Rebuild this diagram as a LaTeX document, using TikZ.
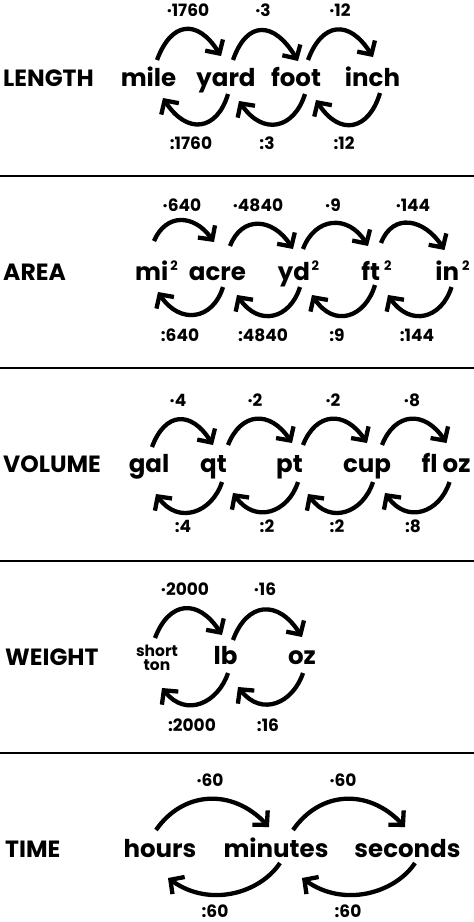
\documentclass[tikz,border=0pt]{standalone}
\usepackage{fontspec}
\setmainfont{Poppins}
\usetikzlibrary{arrows.meta,calc}
\newcommand\supsq[1]{\kern#1pt\raisebox{9.5pt}{\fontsize{13}{13}\selectfont 2}}
\begin{document}
\begin{tikzpicture}[x=1pt,y=-1pt,
  unit/.style={font=\fontsize{24.5}{24.5}\selectfont\bfseries, inner sep=0pt, anchor=base},
  title/.style={font=\fontsize{23.5}{23.5}\selectfont\bfseries, inner sep=0pt, anchor=base west},
  lab/.style={font=\fontsize{17}{17}\selectfont\bfseries, inner sep=0pt},
  arc/.style={line width=4.3pt, -{Straight Barb[length=10pt,width=21pt]}},
  sep/.style={line width=2.5pt}]
\useasboundingbox (0,0) rectangle (474,922);
\fill[white] (0,0) rectangle (474,922);
% separators
\draw[sep] (0,176) -- (474,176);
\draw[sep] (0,368) -- (474,368);
\draw[sep] (0,561) -- (474,561);
\draw[sep] (0,753) -- (474,753);

% ---------------- LENGTH
\node[title] (tlen) at (3,86) {LENGTH};
\node[unit] (mile) at (148.5,86) {mile};
\node[unit] (yard) at (226,86) {yard};
\node[unit] (foot) at (296,86) {foot};
\node[unit] (inch) at (372.5,86) {inch};
\node[lab] (lt1) at (188,10) {·1760};
\node[lab] (lt2) at (263,10) {·3};
\node[lab] (lt3) at (340,10) {·12};
\node[lab] (lb1) at (191,143) {:1760};
\node[lab] (lb2) at (267,143) {:3};
\node[lab] (lb3) at (344,143) {:12};
\draw[arc] ($(mile.base)+(8.5,-26)$) .. controls +(14,-38) and +(-24,-38) .. ($(yard.base)+(-5,-30)$);
\draw[arc] ($(yard.base)+(7,-26)$) .. controls +(14,-40) and +(-24,-40) .. ($(foot.base)+(2,-25)$);
\draw[arc] ($(foot.base)+(12,-26)$) .. controls +(14,-38) and +(-24,-38) .. ($(inch.base)+(0.5,-29)$);
\draw[arc] ($(yard.base)+(2,8)$) .. controls +(-11,37) and +(24,37) .. ($(mile.base)+(14.5,12)$);
\draw[arc] ($(foot.base)+(9,8)$) .. controls +(-11,35) and +(24,35) .. ($(yard.base)+(13,15)$);
\draw[arc] ($(inch.base)+(7.5,7)$) .. controls +(-11,37) and +(24,37) .. ($(foot.base)+(20,14)$);

% ---------------- AREA
\node[title] (tarea) at (3,280) {AREA};
\node[unit] (mi2) at (156.5,280) {mi\supsq{2}};
\node[unit] (acre) at (217.5,280) {acre};
\node[unit] (yd2) at (298.5,280) {yd\supsq{1.5}};
\node[unit] (ft2) at (376.5,280) {ft\supsq{4}};
\node[unit] (in2) at (452.5,280) {in\supsq{3}};
\node[lab] (at1) at (182,205) {·640};
\node[lab] (at2) at (258,205) {·4840};
\node[lab] (at3) at (333,205) {·9};
\node[lab] (at4) at (413,205) {·144};
\node[lab] (ab1) at (180,335) {:640};
\node[lab] (ab2) at (263,335) {:4840};
\node[lab] (ab3) at (337,335) {:9};
\node[lab] (ab4) at (417,335) {:144};
\draw[arc] ($(mi2.base)+(-2.5,-39)$) .. controls +(12,-28) and +(-20,-28) .. ($(acre.base)+(-3.5,-38)$);
\draw[arc] ($(acre.base)+(12.5,-34)$) .. controls +(12,-31) and +(-20,-31) .. ($(yd2.base)+(-5.5,-31)$);
\draw[arc] ($(yd2.base)+(4.5,-31)$) .. controls +(12,-32) and +(-20,-32) .. ($(ft2.base)+(-8.5,-34)$);
\draw[arc] ($(ft2.base)+(4.5,-37)$) .. controls +(12,-31) and +(-20,-31) .. ($(in2.base)+(-8,-30)$);
\draw[arc] ($(acre.base)+(5.5,7)$) .. controls +(-10,33) and +(22,33) .. ($(mi2.base)+(1.5,12)$);
\draw[arc] ($(yd2.base)+(1.5,7)$) .. controls +(-10,32) and +(22,32) .. ($(acre.base)+(19.5,15)$);
\draw[arc] ($(ft2.base)+(-1.5,5)$) .. controls +(-10,33) and +(22,33) .. ($(yd2.base)+(13.5,15)$);
\draw[arc] ($(in2.base)+(-1,7)$) .. controls +(-10,32) and +(22,32) .. ($(ft2.base)+(11.5,15)$);

% ---------------- VOLUME
\node[title] (tvol) at (3,472) {VOLUME};
\node[unit] (gal) at (149,472) {gal};
\node[unit] (qt) at (213.5,472) {qt};
\node[unit] (pt) at (289.5,472) {pt};
\node[unit] (cup) at (367,472) {cup};
\node[unit] (floz) at (446,472) {fl oz};
\node[lab] (vt1) at (178,400) {·4};
\node[lab] (vt2) at (255,400) {·2};
\node[lab] (vt3) at (333,400) {·2};
\node[lab] (vt4) at (412,400) {·8};
\node[lab] (vb1) at (183,526) {:4};
\node[lab] (vb2) at (267,526) {:2};
\node[lab] (vb3) at (337,526) {:2};
\node[lab] (vb4) at (413,526) {:8};
\draw[arc] ($(gal.base)+(3,-25)$) .. controls +(13,-35) and +(-22,-35) .. ($(qt.base)+(-0.5,-27)$);
\draw[arc] ($(qt.base)+(14.5,-27)$) .. controls +(13,-33) and +(-22,-33) .. ($(pt.base)+(2.5,-29)$);
\draw[arc] ($(pt.base)+(13.5,-27)$) .. controls +(13,-33) and +(-22,-33) .. ($(cup.base)+(0,-29)$);
\draw[arc] ($(cup.base)+(15,-27)$) .. controls +(13,-33) and +(-22,-33) .. ($(floz.base)+(0.5,-29)$);
\draw[arc] ($(qt.base)+(8.5,10)$) .. controls +(-10,31) and +(22,31) .. ($(gal.base)+(7,22)$);
\draw[arc] ($(pt.base)+(8.5,10)$) .. controls +(-10,31) and +(22,31) .. ($(qt.base)+(19.5,21)$);
\draw[arc] ($(cup.base)+(6,10)$) .. controls +(-10,31) and +(22,31) .. ($(pt.base)+(18.5,22)$);
\draw[arc] ($(floz.base)+(3.5,10)$) .. controls +(-10,31) and +(22,31) .. ($(cup.base)+(18,21)$);

% ---------------- WEIGHT
\node[title] (twt) at (5,665) {WEIGHT};
\node[font=\fontsize{15.5}{14}\selectfont\bfseries, inner sep=0pt, align=center] (ton) at (157,658) {short\\ton};
\node[unit] (lb) at (225.5,664) {lb};
\node[unit] (oz) at (302,664) {oz};
\node[lab] (wt1) at (185,589) {·2000};
\node[lab] (wt2) at (265,589) {·16};
\node[lab] (wb1) at (192,725) {:2000};
\node[lab] (wb2) at (268,725) {:16};
\draw[arc] ($(ton.center)+(-2,-20)$) .. controls +(14,-37) and +(-24,-37) .. ($(lb.base)+(-3.5,-29)$);
\draw[arc] ($(lb.base)+(7.5,-24)$) .. controls +(14,-38) and +(-24,-38) .. ($(oz.base)+(0,-27)$);
\draw[arc] ($(lb.base)+(2.5,9)$) .. controls +(-10,30) and +(24,30) .. ($(ton.center)+(5,30)$);
\draw[arc] ($(oz.base)+(1,9)$) .. controls +(-10,30) and +(24,30) .. ($(lb.base)+(12.5,23)$);

% ---------------- TIME
\node[title] (ttime) at (5,857) {TIME};
\node[unit] (hours) at (160,857) {hours};
\node[unit] (minutes) at (276,857) {minutes};
\node[unit] (seconds) at (407.5,857) {seconds};
\node[lab] (tt1) at (210,780) {·60};
\node[lab] (tt2) at (343,780) {·60};
\node[lab] (tb1) at (215,911) {:60};
\node[lab] (tb2) at (348,911) {:60};
\draw[arc] ($(hours.base)+(-4,-27)$) .. controls +(27,-39) and +(-37,-39) .. ($(minutes.base)+(-7,-30)$);
\draw[arc] ($(minutes.base)+(17,-27)$) .. controls +(27,-39) and +(-37,-39) .. ($(seconds.base)+(-2.5,-30)$);
\draw[arc] ($(minutes.base)+(4,6)$) .. controls +(-20,30) and +(42,30) .. ($(hours.base)+(8,21)$);
\draw[arc] ($(seconds.base)+(7.5,6)$) .. controls +(-20,30) and +(42,30) .. ($(minutes.base)+(26,21)$);
\end{tikzpicture}
\end{document}
